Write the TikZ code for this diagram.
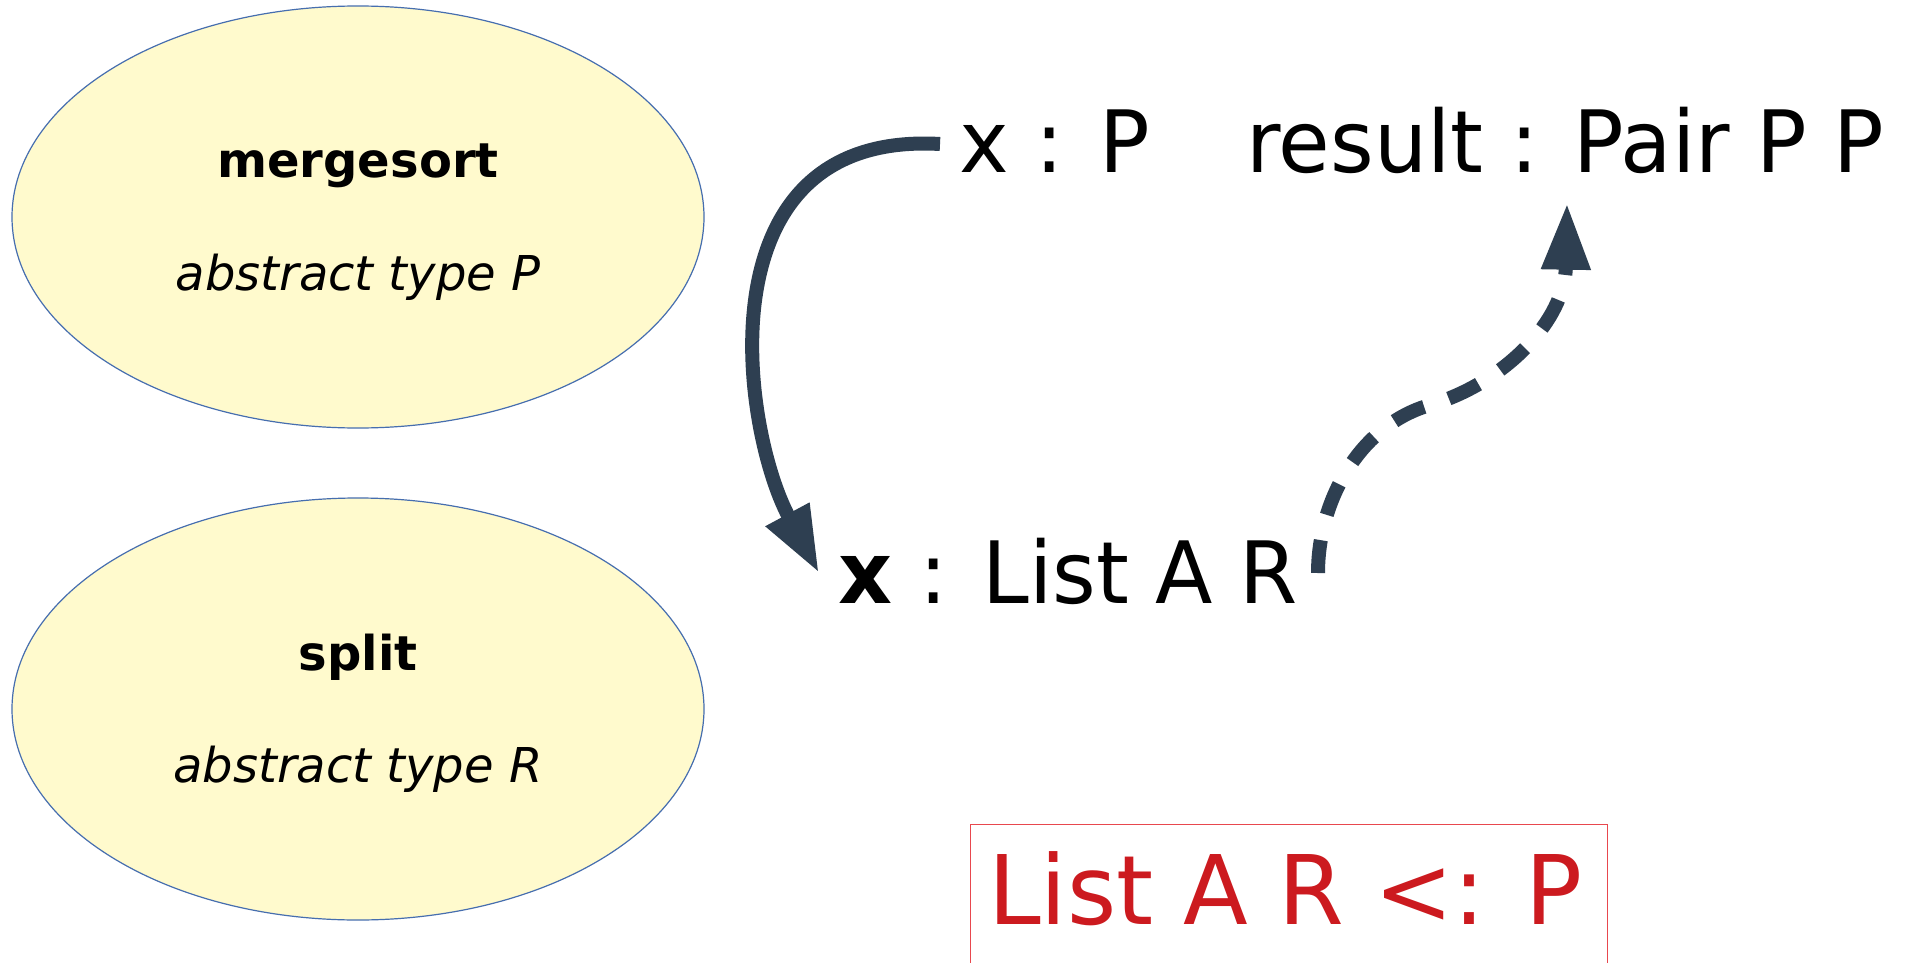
\documentclass[tikz,border=0pt]{standalone}
\usepackage{fontspec}
\setmainfont{DejaVu Sans}
\newfontfamily\bigfont{DejaVu Sans}[FakeStretch=0.975]
\newfontfamily\redfont{DejaVu Sans}[FakeStretch=0.985]
\usetikzlibrary{arrows.meta,shapes.geometric}
\definecolor{ellfill}{RGB}{255,250,205}
\definecolor{ellline}{RGB}{70,110,175}
\definecolor{arrowcol}{RGB}{46,63,81}
\definecolor{redtext}{RGB}{204,26,31}
\definecolor{redbox}{RGB}{232,72,78}
\begin{document}
\begin{tikzpicture}[x=0.75pt,y=-0.75pt,
  blob/.style={ellipse, draw=ellline, line width=0.9pt, fill=ellfill,
    minimum width=519pt, minimum height=316.5pt, inner sep=0pt},
  title/.style={font=\fontsize{36}{43}\selectfont\bfseries, anchor=base, inner sep=0pt},
  subtitle/.style={font=\fontsize{36}{43}\selectfont\itshape, anchor=base, inner sep=0pt},
  big/.style={font=\bigfont\fontsize{64.5}{77}\selectfont, anchor=base west, inner sep=0pt},
  conn/.style={draw=arrowcol, line width=10.5pt, arrowcol,
    -{Triangle[length=50pt,width=34.5pt]}},
  dashconn/.style={conn, dash pattern=on 24.75pt off 19.5pt},
  redframe/.style={rectangle, draw=redbox, line width=1.1pt, anchor=north west,
    minimum width=477.75pt, minimum height=150pt, inner sep=0pt},
  redlabel/.style={font=\redfont\fontsize{72}{86}\selectfont, text=redtext, anchor=base west, inner sep=0pt},
]
\useasboundingbox[fill=white] (0,0) rectangle (1909,963);

% ellipses
\node[blob] (ms) at (358,217) {};
\node[title] (mst) at (358,178) {mergesort};
\node[subtitle] (msp) at (358,290) {abstract type P};

\node[blob] (sp) at (358,709) {};
\node[title] (spt) at (358,670) {split};
\node[subtitle] (spr) at (358,782) {abstract type R};

% type texts
\node[big] (xp) at (959,173) {x : P};
\node[big] (res) at (1246,173) {result : Pair P P};
\node[big] (xl) at (838,603) {\textbf{x} : List A R};

% red box
\node[redframe] (box) at (970,824) {};
\node[redlabel] (sub) at (988,924) {List A R <: P};

% connectors
\coordinate (s1) at (940,144);
\coordinate (e1) at (819,573);
\draw[conn] (s1) .. controls (698,130) and (742,430) .. (e1);

\coordinate (s2) at (1318,573);
\coordinate (m2) at (1430,405);
\coordinate (e2) at (1567,203);
\draw[dashconn] (s2) .. controls (1318,500) and (1360,425) .. (m2)
  .. controls (1505,383) and (1565,320) .. (e2);
\end{tikzpicture}
\end{document}
